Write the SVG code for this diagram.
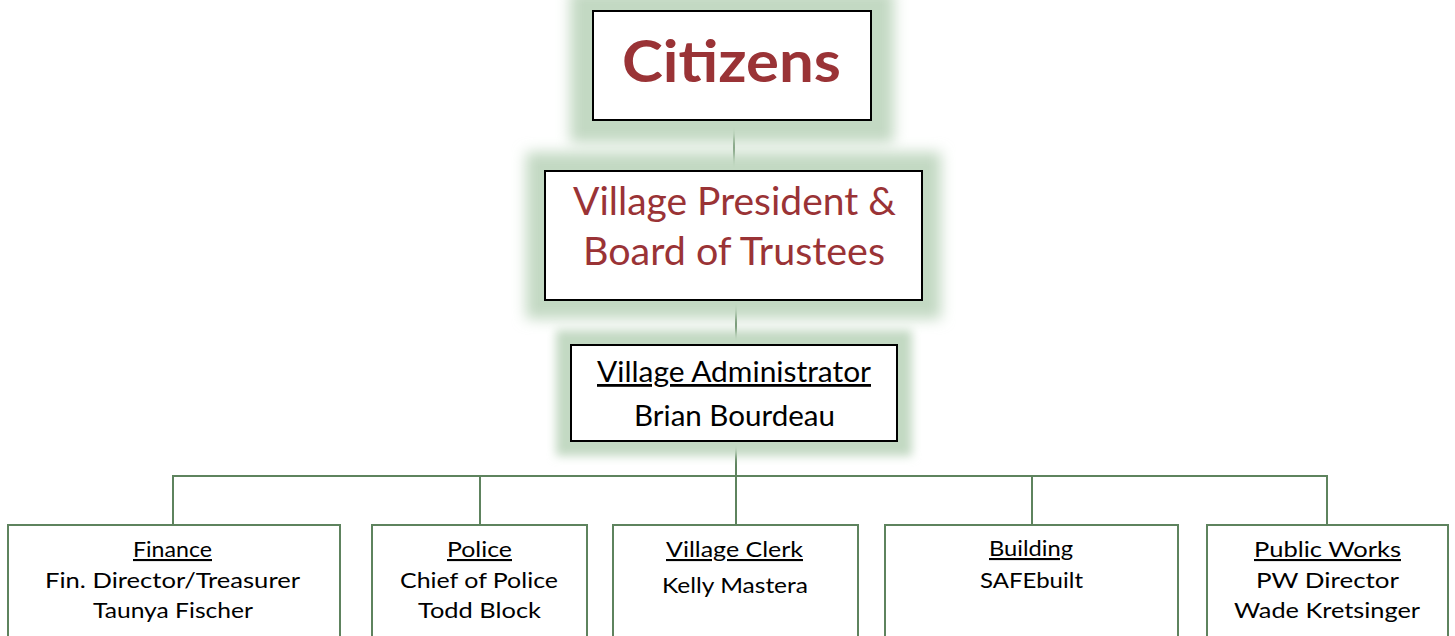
<svg xmlns="http://www.w3.org/2000/svg" width="1455" height="636" viewBox="0 0 1455 636">
<style>
.top{fill:#fff;stroke:#000;stroke-width:2}
.dept{fill:#fff;stroke:#5e835e;stroke-width:2}
.glow{fill:#c3d9c3}
.conn{stroke:#5e835e;stroke-width:2;fill:none}
.red{fill:#9a3336;font-family:Lato,"Open Sans",sans-serif}
.blk{fill:#000;font-family:Lato,"Open Sans",sans-serif;text-anchor:middle}
</style>
<defs>
<filter id="blur" x="-30%" y="-50%" width="160%" height="200%"><feGaussianBlur stdDeviation="7"/></filter>
<filter id="blur2" x="-30%" y="-50%" width="160%" height="200%"><feGaussianBlur stdDeviation="5"/></filter>
</defs>
<rect x="0" y="0" width="1455" height="636" fill="#fff"/>
<g id="connectors">
<line class="conn" x1="734" y1="120" x2="734" y2="171"/>
<line class="conn" x1="736" y1="300" x2="736" y2="345"/>
<line class="conn" x1="736" y1="441" x2="736" y2="525"/>
<polyline class="conn" points="173,525 173,476 1327,476 1327,525"/>
<line class="conn" x1="480" y1="476" x2="480" y2="525"/>
<line class="conn" x1="1032" y1="476" x2="1032" y2="525"/>
</g>
<g id="citizens">
<rect class="glow" x="570" y="-10" width="324" height="153" filter="url(#blur)"/>
<rect class="top" x="593" y="11" width="278" height="109"/>
<text class="red" x="731.5" y="82" font-size="57" font-weight="bold" text-anchor="middle" textLength="219" lengthAdjust="spacingAndGlyphs">Citizens</text>
</g>
<g id="board">
<rect class="glow" x="526" y="152" width="415" height="167" filter="url(#blur)"/>
<rect class="top" x="545" y="171" width="377" height="129"/>
<text class="red" x="734.5" y="215" font-size="38" text-anchor="middle" textLength="323" lengthAdjust="spacingAndGlyphs">Village President &amp;</text>
<text class="red" x="734" y="265" font-size="38" text-anchor="middle" textLength="302" lengthAdjust="spacingAndGlyphs">Board of Trustees</text>
</g>
<g id="administrator">
<rect class="glow" x="556" y="330" width="356" height="126" filter="url(#blur2)"/>
<rect class="top" x="571" y="345" width="326" height="96"/>
<text class="blk" x="734" y="382" font-size="28" text-decoration="underline" textLength="274" lengthAdjust="spacingAndGlyphs">Village Administrator</text>
<text class="blk" x="734.5" y="426" font-size="28" textLength="201" lengthAdjust="spacingAndGlyphs">Brian Bourdeau</text>
</g>
<g id="finance">
<rect class="dept" x="8" y="525" width="332" height="130"/>
<text class="blk" x="172.5" y="557" font-size="21" text-decoration="underline" textLength="79" lengthAdjust="spacingAndGlyphs">Finance</text>
<text class="blk" x="172.5" y="588" font-size="21" textLength="255" lengthAdjust="spacingAndGlyphs">Fin. Director/Treasurer</text>
<text class="blk" x="173" y="618" font-size="21" textLength="160" lengthAdjust="spacingAndGlyphs">Taunya Fischer</text>
</g>
<g id="police">
<rect class="dept" x="372" y="525" width="215" height="130"/>
<text class="blk" x="479.5" y="557" font-size="21" text-decoration="underline" textLength="65" lengthAdjust="spacingAndGlyphs">Police</text>
<text class="blk" x="479" y="588" font-size="21" textLength="158" lengthAdjust="spacingAndGlyphs">Chief of Police</text>
<text class="blk" x="479.5" y="618" font-size="21" textLength="123" lengthAdjust="spacingAndGlyphs">Todd Block</text>
</g>
<g id="clerk">
<rect class="dept" x="613" y="525" width="245" height="130"/>
<text class="blk" x="734.5" y="557" font-size="21" text-decoration="underline" textLength="137" lengthAdjust="spacingAndGlyphs">Village Clerk</text>
<text class="blk" x="735" y="593" font-size="21" textLength="146" lengthAdjust="spacingAndGlyphs">Kelly Mastera</text>
</g>
<g id="building">
<rect class="dept" x="885" y="525" width="293" height="130"/>
<text class="blk" x="1031" y="556" font-size="21" text-decoration="underline" textLength="84" lengthAdjust="spacingAndGlyphs">Building</text>
<text class="blk" x="1031.5" y="588" font-size="21" textLength="103" lengthAdjust="spacingAndGlyphs">SAFEbuilt</text>
</g>
<g id="publicworks">
<rect class="dept" x="1207" y="525" width="241" height="130"/>
<text class="blk" x="1327.5" y="557" font-size="21" text-decoration="underline" textLength="147" lengthAdjust="spacingAndGlyphs">Public Works</text>
<text class="blk" x="1327.5" y="588" font-size="21" textLength="143" lengthAdjust="spacingAndGlyphs">PW Director</text>
<text class="blk" x="1327" y="618" font-size="21" textLength="186" lengthAdjust="spacingAndGlyphs">Wade Kretsinger</text>
</g>
</svg>
